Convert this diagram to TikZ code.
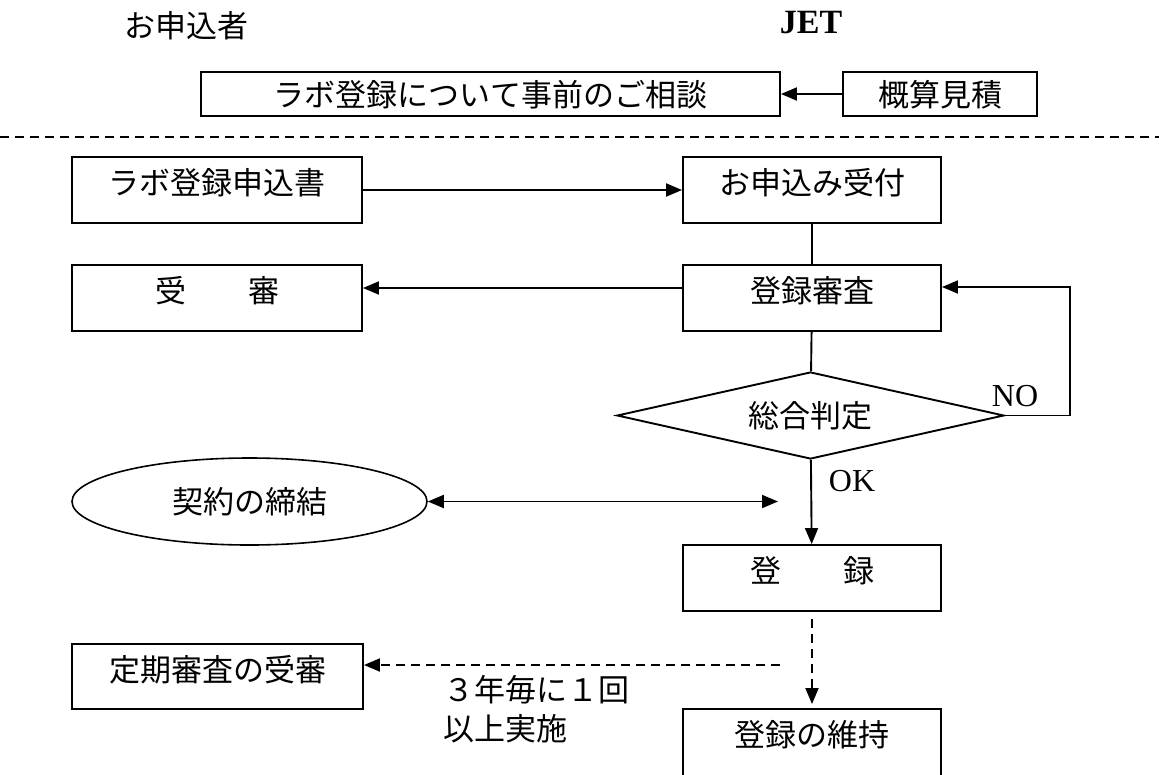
\documentclass[tikz,border=0pt]{standalone}
\usepackage{fontspec}
\setmainfont{Liberation Serif}
\newfontfamily\jpfont{Noto Sans CJK JP}
\usetikzlibrary{arrows.meta,shapes.geometric}
\tikzset{
  jp/.style={font=\jpfont\fontsize{31pt}{39pt}\selectfont},
  lat/.style={font=\fontsize{32pt}{38pt}\selectfont},
  ln/.style={line width=1.9pt},
  arr/.style={ln, -{Triangle[length=16pt,width=13pt]}},
  darr/.style={ln, {Triangle[length=16pt,width=13pt]}-{Triangle[length=16pt,width=13pt]}},
  dashline/.style={dash pattern=on 9pt off 6pt},
  box/.style={draw, ln, jp, inner sep=0pt, text height=37pt, text depth=29pt, minimum height=66pt},
  wbox/.style={box, minimum width=290pt},
  nbox/.style={box, minimum width=258pt},
  topbox/.style={draw, ln, jp, inner sep=0pt, minimum height=44pt, text height=34pt, text depth=10pt},
}
\begin{document}
\begin{tikzpicture}[x=1pt,y=-1pt]
\useasboundingbox (0,0) rectangle (1159,774);
\clip (0,0) rectangle (1159,774);
% headers
\node[jp] (hdrA) at (186,26) {お申込者};
\node[font=\bfseries\fontsize{34pt}{40pt}\selectfont] (hdrB) at (811,23) {JET};
% consultation row
\node[topbox, minimum width=579pt] (consult) at (490.5,94) {ラボ登録について事前のご相談};
\node[topbox, minimum width=194pt] (estimate) at (940,94) {概算見積};
\draw[arr] (estimate) -- (consult);
% separator
\coordinate (sepL) at (0,137);
\coordinate (sepR) at (1159,137);
\draw[line width=1.6pt, dashline] (sepL) -- (sepR);
% application
\node[wbox] (apply) at (217,190) {ラボ登録申込書};
\node[nbox] (receive) at (812,190) {お申込み受付};
\draw[arr] (apply) -- (receive);
% review
\node[wbox] (exam) at (217,298) {受　　審};
\node[nbox] (review) at (812,298) {登録審査};
\draw[ln] (receive) -- (review);
\draw[arr] ([yshift=10pt]review.west) -- ([yshift=10pt]exam.east);
% judgement
\node[draw, ln, jp, diamond, shape aspect=4.45, minimum width=387pt, minimum height=87pt, inner sep=0pt] (judge) at (810.5,415.5) {総合判定};
\draw[ln] (review) -- (judge);
\coordinate (loop) at (1070,415.5);
\draw[arr] (judge.east) -- (loop) |- ([yshift=11pt]review.east);
\node[lat] (no) at (1015,396) {NO};
% contract
\node[draw, line width=1.6pt, ellipse, jp, minimum width=355pt, minimum height=87pt, inner sep=0pt] (contract) at (249.5,501.5) {契約の締結};
\coordinate (cend) at (778,501.5);
\draw[darr] (contract.east) -- (cend);
% registration
\node[nbox] (register) at (812,578) {登　　録};
\draw[arr] (judge) -- (register);
\node[lat] (ok) at (852,481) {OK};
% maintenance
\node[box, minimum width=258pt, minimum height=80pt, text depth=43pt] (maintain) at (812,749) {登録の維持};
\draw[arr, dashline] ([yshift=-7pt]register.south) -- ([yshift=4pt]maintain.north);
\node[box, minimum width=291pt, minimum height=65pt, text depth=28pt] (periodic) at (217.5,676.5) {定期審査の受審};
\coordinate (pstart) at (780,665);
\draw[arr, dashline] (pstart) -- (periodic.east |- pstart);
\node[jp, align=left, anchor=west, inner sep=0pt] (freq) at (443,709.5) {３年毎に１回\\以上実施};
\end{tikzpicture}
\end{document}
